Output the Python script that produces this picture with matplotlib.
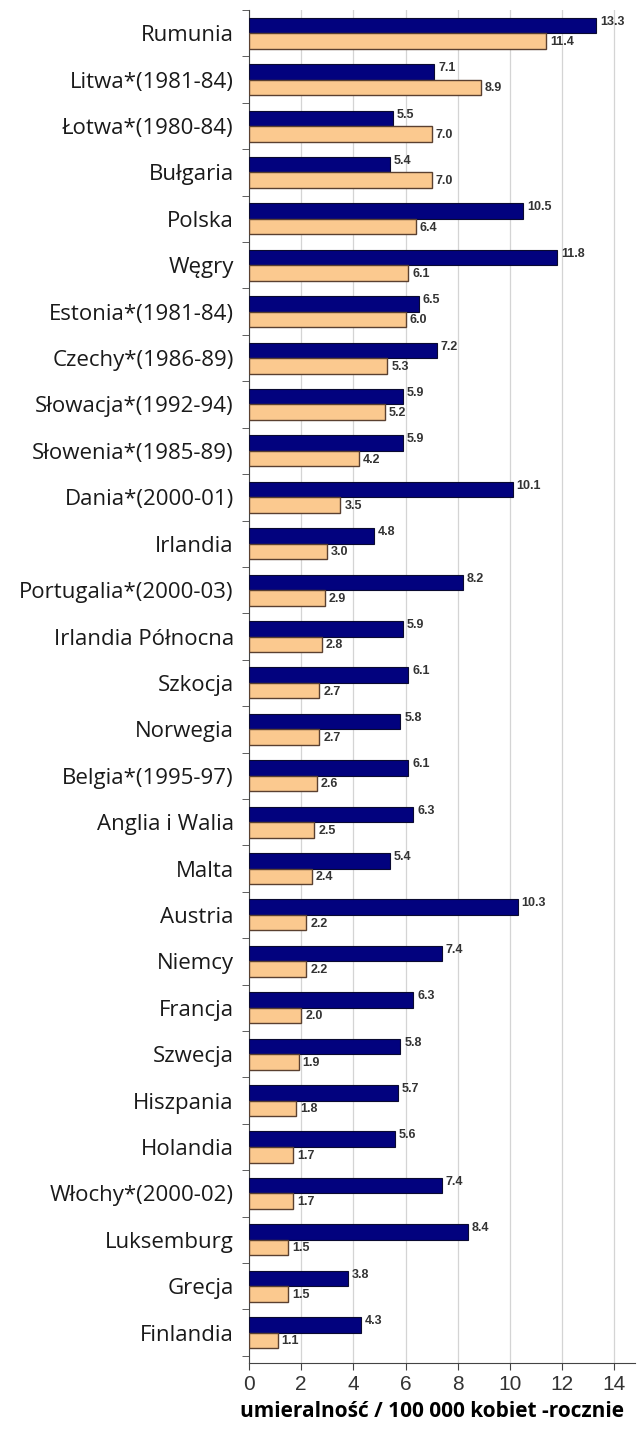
import numpy as np
import matplotlib.pyplot as plt

kraje = ["Rumunia", "Litwa*(1981-84)", "Łotwa*(1980-84)", "Bułgaria", "Polska",
         "Węgry", "Estonia*(1981-84)", "Czechy*(1986-89)", "Słowacja*(1992-94)",
         "Słowenia*(1985-89)", "Dania*(2000-01)", "Irlandia", "Portugalia*(2000-03)",
         "Irlandia Północna", "Szkocja", "Norwegia", "Belgia*(1995-97)",
         "Anglia i Walia", "Malta", "Austria", "Niemcy", "Francja", "Szwecja",
         "Hiszpania", "Holandia", "Włochy*(2000-02)", "Luksemburg", "Grecja",
         "Finlandia"]
granat = [13.3, 7.1, 5.5, 5.4, 10.5, 11.8, 6.5, 7.2, 5.9, 5.9, 10.1, 4.8, 8.2,
          5.9, 6.1, 5.8, 6.1, 6.3, 5.4, 10.3, 7.4, 6.3, 5.8, 5.7, 5.6, 7.4, 8.4,
          3.8, 4.3]
pomarancz = [11.4, 8.9, 7.0, 7.0, 6.4, 6.1, 6.0, 5.3, 5.2, 4.2, 3.5, 3.0, 2.9,
             2.8, 2.7, 2.7, 2.6, 2.5, 2.4, 2.2, 2.2, 2.0, 1.9, 1.8, 1.7, 1.7, 1.5,
             1.5, 1.1]
xticki = [0, 2, 4, 6, 8, 10, 12, 14]

fig = plt.figure(figsize=(6.37, 14.36), dpi=100)
ax = fig.add_axes([0.391, 0.051, 0.606, 0.942])

y = np.arange(len(kraje))
h = 0.335
ax.barh(y - h/2, granat, height=h, color="#02027e", edgecolor="#0a0a30", lw=0.8, zorder=3)
ax.barh(y + h/2, pomarancz, height=h, color="#fbc98f", edgecolor="#5a4030", lw=1.0, zorder=3)

# etykiety wartosci przy koncach slupkow
for i in range(len(kraje)):
    ax.text(granat[i] + 0.15, y[i] - h/2 - 0.08, f"{granat[i]:.1f}", fontsize=9,
            fontweight="bold", color="#333333", va="center", ha="left",
            family="Liberation Sans")
    ax.text(pomarancz[i] + 0.15, y[i] + h/2 + 0.02, f"{pomarancz[i]:.1f}", fontsize=9,
            fontweight="bold", color="#333333", va="center", ha="left",
            family="Liberation Sans")

ax.set_ylim(len(kraje) - 0.5 + 0.15, -0.5)
ax.set_xlim(0, 14.8)
ax.set_yticks(y)
ax.set_yticklabels(kraje, fontsize=16, family="Open Sans", color="#1a1a1a")
ax.set_yticks(np.arange(len(kraje) + 1) - 0.5, minor=True)
ax.tick_params(axis="y", which="major", length=0, pad=11)
ax.tick_params(axis="y", which="minor", length=5, color="#444444")
ax.set_xticks(xticki)
ax.set_xticklabels([str(t) for t in xticki], fontsize=15, family="Liberation Sans",
                   color="#333333")
ax.tick_params(axis="x", length=5, color="#444444")
ax.grid(axis="x", color="#d4d4d4", lw=0.9, zorder=0)
ax.spines["top"].set_visible(False)
ax.spines["right"].set_visible(False)
ax.spines["left"].set_color("#444444")
ax.spines["bottom"].set_color("#444444")
ax.set_xlabel("umieralność / 100 000 kobiet -rocznie", fontsize=15, fontweight="bold",
              family="Open Sans", labelpad=5, x=0.474)

fig.savefig("out.png", dpi=100)
